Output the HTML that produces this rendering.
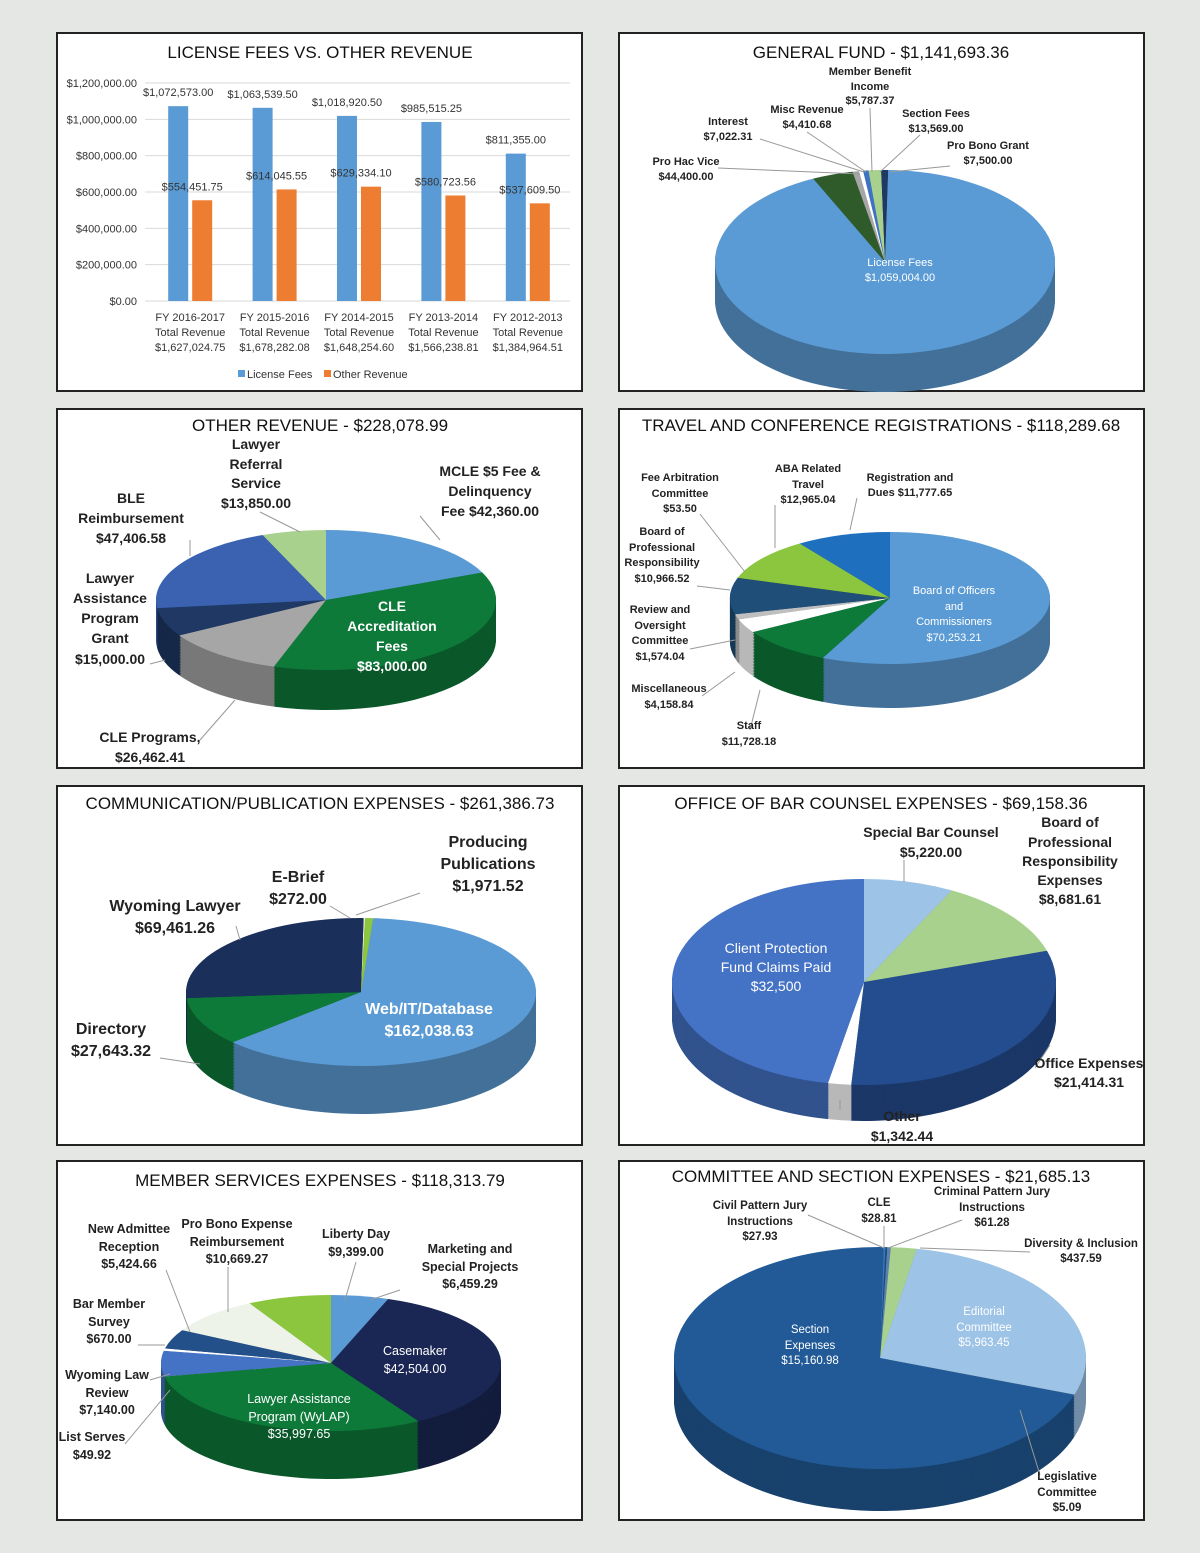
<!DOCTYPE html>
<html><head><meta charset="utf-8">
<style>
body{margin:0;width:1200px;height:1553px;background:#e6e9e6;font-family:"Liberation Sans",sans-serif;overflow:hidden}
svg{position:absolute;left:0;top:0}
text{font-family:"Liberation Sans",sans-serif}
.t{font-size:17px;fill:#111;text-anchor:middle}
.l{font-weight:bold;fill:#222}
</style></head>
<body>
<svg id="s" width="1200" height="1553">
<rect x="0" y="0" width="1200" height="1553" fill="#e4e7e4"/>
<g fill="#fff" stroke="#222" stroke-width="2">
<rect x="57" y="33" width="525" height="358"/><rect x="619" y="33" width="525" height="358"/>
<rect x="57" y="409" width="525" height="359"/><rect x="619" y="409" width="525" height="359"/>
<rect x="57" y="786" width="525" height="359"/><rect x="619" y="786" width="525" height="359"/>
<rect x="57" y="1161" width="525" height="359"/><rect x="619" y="1161" width="525" height="359"/>
</g>
<g>
<text class="t" x="320" y="58">LICENSE FEES VS. OTHER REVENUE</text>
<text class="t" x="881" y="58">GENERAL FUND - $1,141,693.36</text>
<text class="t" x="320" y="431">OTHER REVENUE - $228,078.99</text>
<text class="t" x="881" y="431">TRAVEL AND CONFERENCE REGISTRATIONS - $118,289.68</text>
<text class="t" x="320" y="809">COMMUNICATION/PUBLICATION EXPENSES - $261,386.73</text>
<text class="t" x="881" y="809">OFFICE OF BAR COUNSEL EXPENSES - $69,158.36</text>
<text class="t" x="320" y="1186">MEMBER SERVICES EXPENSES - $118,313.79</text>
<text class="t" x="881" y="1182">COMMITTEE AND SECTION EXPENSES - $21,685.13</text>
</g>
<g id="bars"></g>
<g id="pies"></g>
<g class="l">
<!-- general fund -->
<g font-size="11">
<text x="870" y="75" text-anchor="middle">Member Benefit</text><text x="870" y="90" text-anchor="middle">Income</text><text x="870" y="104" text-anchor="middle">$5,787.37</text>
<text x="807" y="113" text-anchor="middle">Misc Revenue</text><text x="807" y="128" text-anchor="middle">$4,410.68</text>
<text x="728" y="125" text-anchor="middle">Interest</text><text x="728" y="140" text-anchor="middle">$7,022.31</text>
<text x="686" y="165" text-anchor="middle">Pro Hac Vice</text><text x="686" y="180" text-anchor="middle">$44,400.00</text>
<text x="936" y="117" text-anchor="middle">Section Fees</text><text x="936" y="132" text-anchor="middle">$13,569.00</text>
<text x="988" y="149" text-anchor="middle">Pro Bono Grant</text><text x="988" y="164" text-anchor="middle">$7,500.00</text>
<text x="900" y="266" text-anchor="middle" fill="#fff" font-weight="normal">License Fees</text><text x="900" y="281" text-anchor="middle" fill="#fff" font-weight="normal">$1,059,004.00</text>
</g>
<!-- other revenue -->
<g font-size="14" text-anchor="middle">
<text x="256" y="449">Lawyer</text><text x="256" y="469">Referral</text><text x="256" y="488">Service</text><text x="256" y="508">$13,850.00</text>
<text x="131" y="503">BLE</text><text x="131" y="523">Reimbursement</text><text x="131" y="543">$47,406.58</text>
<text x="490" y="476">MCLE $5 Fee &amp;</text><text x="490" y="496">Delinquency</text><text x="490" y="516">Fee $42,360.00</text>
<text x="110" y="583">Lawyer</text><text x="110" y="603">Assistance</text><text x="110" y="623">Program</text><text x="110" y="643">Grant</text><text x="110" y="664">$15,000.00</text>
<text x="392" y="611" fill="#fff">CLE</text><text x="392" y="631" fill="#fff">Accreditation</text><text x="392" y="651" fill="#fff">Fees</text><text x="392" y="671" fill="#fff">$83,000.00</text>
<text x="150" y="742">CLE Programs,</text><text x="150" y="762">$26,462.41</text>
</g>
<!-- travel -->
<g font-size="11" text-anchor="middle">
<text x="680" y="481">Fee Arbitration</text><text x="680" y="497">Committee</text><text x="680" y="512">$53.50</text>
<text x="808" y="472">ABA Related</text><text x="808" y="488">Travel</text><text x="808" y="503">$12,965.04</text>
<text x="910" y="481">Registration and</text><text x="910" y="496">Dues $11,777.65</text>
<text x="662" y="535">Board of</text><text x="662" y="551">Professional</text><text x="662" y="566">Responsibility</text><text x="662" y="582">$10,966.52</text>
<text x="660" y="613">Review and</text><text x="660" y="629">Oversight</text><text x="660" y="644">Committee</text><text x="660" y="660">$1,574.04</text>
<text x="669" y="692">Miscellaneous</text><text x="669" y="708">$4,158.84</text>
<text x="749" y="729">Staff</text><text x="749" y="745">$11,728.18</text>
<text x="954" y="594" fill="#fff" font-weight="normal">Board of Officers</text><text x="954" y="610" fill="#fff" font-weight="normal">and</text><text x="954" y="625" fill="#fff" font-weight="normal">Commissioners</text><text x="954" y="641" fill="#fff" font-weight="normal">$70,253.21</text>
</g>
<!-- communication -->
<g font-size="16" text-anchor="middle">
<text x="488" y="847">Producing</text><text x="488" y="869">Publications</text><text x="488" y="891">$1,971.52</text>
<text x="298" y="882">E-Brief</text><text x="298" y="904">$272.00</text>
<text x="175" y="911">Wyoming Lawyer</text><text x="175" y="933">$69,461.26</text>
<text x="111" y="1034">Directory</text><text x="111" y="1056">$27,643.32</text>
<text x="429" y="1014" fill="#fff">Web/IT/Database</text><text x="429" y="1036" fill="#fff">$162,038.63</text>
</g>
<!-- office bar counsel -->
<g font-size="14" text-anchor="middle">
<text x="931" y="837">Special Bar Counsel</text><text x="931" y="857">$5,220.00</text>
<text x="1070" y="827">Board of</text><text x="1070" y="847">Professional</text><text x="1070" y="866">Responsibility</text><text x="1070" y="885">Expenses</text><text x="1070" y="904">$8,681.61</text>
<text x="776" y="953" fill="#fff" font-weight="normal">Client Protection</text><text x="776" y="972" fill="#fff" font-weight="normal">Fund Claims Paid</text><text x="776" y="991" fill="#fff" font-weight="normal">$32,500</text>
<text x="1089" y="1068">Office Expenses</text><text x="1089" y="1087">$21,414.31</text>
<text x="902" y="1121">Other</text><text x="902" y="1141">$1,342.44</text>
</g>
<!-- member services -->
<g font-size="12.5" text-anchor="middle">
<text x="129" y="1233">New Admittee</text><text x="129" y="1251">Reception</text><text x="129" y="1268">$5,424.66</text>
<text x="237" y="1228">Pro Bono Expense</text><text x="237" y="1246">Reimbursement</text><text x="237" y="1263">$10,669.27</text>
<text x="356" y="1238">Liberty Day</text><text x="356" y="1256">$9,399.00</text>
<text x="470" y="1253">Marketing and</text><text x="470" y="1271">Special Projects</text><text x="470" y="1288">$6,459.29</text>
<text x="109" y="1308">Bar Member</text><text x="109" y="1326">Survey</text><text x="109" y="1343">$670.00</text>
<text x="107" y="1379">Wyoming Law</text><text x="107" y="1397">Review</text><text x="107" y="1414">$7,140.00</text>
<text x="92" y="1441">List Serves</text><text x="92" y="1459">$49.92</text>
<text x="415" y="1355" fill="#fff" font-weight="normal">Casemaker</text><text x="415" y="1373" fill="#fff" font-weight="normal">$42,504.00</text>
<text x="299" y="1403" fill="#fff" font-weight="normal">Lawyer Assistance</text><text x="299" y="1421" fill="#fff" font-weight="normal">Program (WyLAP)</text><text x="299" y="1438" fill="#fff" font-weight="normal">$35,997.65</text>
</g>
<!-- committee -->
<g font-size="11.5" text-anchor="middle">
<text x="760" y="1209">Civil Pattern Jury</text><text x="760" y="1225">Instructions</text><text x="760" y="1240">$27.93</text>
<text x="879" y="1206">CLE</text><text x="879" y="1222">$28.81</text>
<text x="992" y="1195">Criminal Pattern Jury</text><text x="992" y="1211">Instructions</text><text x="992" y="1226">$61.28</text>
<text x="1081" y="1247">Diversity &amp; Inclusion</text><text x="1081" y="1262">$437.59</text>
<text x="984" y="1315" fill="#fff" font-weight="normal">Editorial</text><text x="984" y="1331" fill="#fff" font-weight="normal">Committee</text><text x="984" y="1346" fill="#fff" font-weight="normal">$5,963.45</text>
<text x="810" y="1333" fill="#fff" font-weight="normal">Section</text><text x="810" y="1349" fill="#fff" font-weight="normal">Expenses</text><text x="810" y="1364" fill="#fff" font-weight="normal">$15,160.98</text>
<text x="1067" y="1480">Legislative</text><text x="1067" y="1496">Committee</text><text x="1067" y="1511">$5.09</text>
</g>
</g>
</svg>
<script>
// ---- bar chart data ----
const barCategories=[["FY 2016-2017","Total Revenue","$1,627,024.75"],["FY 2015-2016","Total Revenue","$1,678,282.08"],["FY 2014-2015","Total Revenue","$1,648,254.60"],["FY 2013-2014","Total Revenue","$1,566,238.81"],["FY 2012-2013","Total Revenue","$1,384,964.51"]];
const licenseFees=[1072573.00,1063539.50,1018920.50,985515.25,811355.00];
const otherRevenue=[554451.75,614045.55,629334.10,580723.56,537609.50];
const yTicks=[0,200000,400000,600000,800000,1000000,1200000];
// ---- pie data ----
const gfValues=[44400,7022.31,4410.68,5787.37,13569,7500,1059004];
const orValues=[42360,83000,26462.41,15000,47406.58,13850];
const trValues=[70253.21,11728.18,4158.84,1574.04,10966.52,53.5,12965.04,11777.65];
const cmValues=[162038.63,27643.32,69461.26,272,1971.52];
const obValues=[5220,8681.61,21414.31,1342.44,32500];
const msValues=[6459.29,42504,35997.65,49.92,7140,670,5424.66,10669.27,9399];
const csValues=[61.28,437.59,5963.45,5.09,15160.98,27.93,28.81];

const NS="http://www.w3.org/2000/svg";
function mk(tag,attrs,parent){const e=document.createElementNS(NS,tag);for(const k in attrs)e.setAttribute(k,attrs[k]);parent.appendChild(e);return e;}
const fmt=v=>"$"+v.toLocaleString("en-US",{minimumFractionDigits:2,maximumFractionDigits:2});

// bar chart
const bg=document.getElementById("bars");
const y0=301,y1=83,vmax=1200000;
const ys=v=>y0-(v/vmax)*(y0-y1);
const xLeft=148,band=84.4;
const xc=i=>xLeft+band*(i+0.5);
yTicks.forEach(t=>{
  const g=mk("line",{x1:145,x2:570,y1:ys(t),y2:ys(t),stroke:"#d9d9d9"},bg);
  
  
  const tx=mk("text",{x:137,y:ys(t)+4,"text-anchor":"end","font-size":"11",fill:"#333"},bg);
  tx.textContent=fmt(t);
  
  
});
licenseFees.forEach((v,i)=>{
  const r=mk("rect",{x:xc(i)-22,y:ys(v),width:20,height:y0-ys(v),fill:"#5b9bd5"},bg);
  
  
  const t=mk("text",{x:xc(i)-12,y:ys(v)-10,"text-anchor":"middle","font-size":"11",fill:"#333"},bg);
  t.textContent=fmt(v);
  
  
});
otherRevenue.forEach((v,i)=>{
  const r=mk("rect",{x:xc(i)+2,y:ys(v),width:20,height:y0-ys(v),fill:"#ed7d31"},bg);
  
  
  const t=mk("text",{x:xc(i)+2,y:ys(v)-10,"text-anchor":"middle","font-size":"11",fill:"#333"},bg);
  t.textContent=fmt(v);
  
  
});
barCategories.forEach((c,i)=>{
  c.forEach((s,j)=>{
    const t=mk("text",{x:xc(i),y:321+j*15,"text-anchor":"middle","font-size":"11",fill:"#333"},bg);
    t.textContent=s;
    
    
  });
});
const lg1=mk("rect",{x:238,y:370,width:7,height:7,fill:"#5b9bd5"},bg);


const lt1=mk("text",{x:247,y:378,"font-size":"11",fill:"#333"},bg);lt1.textContent="License Fees";


const lg2=mk("rect",{x:324,y:370,width:7,height:7,fill:"#ed7d31"},bg);


const lt2=mk("text",{x:333,y:378,"font-size":"11",fill:"#333"},bg);lt2.textContent="Other Revenue";



// pies
const pg=document.getElementById("pies");
function shade(hex,f){const n=parseInt(hex.slice(1),16);let r=n>>16,g=(n>>8)&255,b=n&255;return `rgb(${Math.round(r*f)},${Math.round(g*f)},${Math.round(b*f)})`;}
function slicePath(cx,cy,rx,ry,a0,a1){
  const p0=[cx+rx*Math.cos(a0),cy+ry*Math.sin(a0)],p1=[cx+rx*Math.cos(a1),cy+ry*Math.sin(a1)];
  const large=(a1-a0)>Math.PI?1:0;
  return `M${cx},${cy}L${p0[0]},${p0[1]}A${rx},${ry} 0 ${large} 1 ${p1[0]},${p1[1]}Z`;
}
function pie(name,vals,colors,cx,cy,rx,ry,depth,startDeg){
  const g=mk("g",{},pg);
  
  
  const tot=vals.reduce((a,b)=>a+b,0);
  const angs=[];let a=startDeg*Math.PI/180;
  vals.forEach(v=>{const b=a+v/tot*2*Math.PI;angs.push([a,b]);a=b;});
  for(let d=depth;d>0;d-=1.5){
    angs.forEach((ab,i)=>{
      const p=mk("path",{d:slicePath(cx,cy+d,rx,ry,ab[0],ab[1]),fill:shade(colors[i],0.72)},g);
      
      
    });
  }
  angs.forEach((ab,i)=>{
    const p=mk("path",{d:slicePath(cx,cy,rx,ry,ab[0],ab[1]),fill:colors[i]},g);
    
    
  });
}
pie("general-fund-pie",gfValues,["#2f5a2a","#a6a6a6","#ffffff","#3d72c4","#a9d18e","#8fb8e2","#5b9bd5"].map((c,i)=>[ "#2f5a2a","#a6a6a6","#ffffff","#3d72c4","#a9d18e","#1f3864","#5b9bd5"][i]),885,262,170,92,38,-115);
pie("other-revenue-pie",orValues,["#5b9bd5","#0e7a3a","#a6a6a6","#1f3864","#3a62b0","#a9d18e"],326,600,170,70,40,-90);
pie("travel-pie",trValues,["#5b9bd5","#0e7a3a","#ffffff","#bfbfbf","#1f4e79","#444","#8cc63f","#1f6fbf"],890,598,160,66,44,-90);
pie("communication-pie",cmValues,["#5b9bd5","#0e7a3a","#1a2f5a","#ffffff","#8cc63f"],361,992,175,74,48,-86);
pie("bar-counsel-pie",obValues,["#9dc3e6","#a9d18e","#244d8f","#ffffff","#4472c4"],864,982,192,103,36,-90);
pie("member-services-pie",msValues,["#5b9bd5","#1a2755","#0e7a3a","#ddd","#4472c4","#ffffff","#24508a","#eef3ea","#8cc63f"],331,1363,170,68,48,-90);
pie("committee-pie",csValues,["#5b7fb0","#a9d18e","#9dc3e6","#666","#215a96","#3a7ac0","#1f4e79"],880,1358,206,111,42,-88);

// leader lines
const leaders=[[870,108,872,172],[807,132,866,172],[760,139,864,172],[718,168,860,174],[920,135,880,172],[950,166,890,172],
[420,516,440,540],[260,512,300,532],[190,540,190,556],[150,664,165,660],[200,740,235,700],
[700,514,745,572],[775,505,775,548],[857,498,850,530],[697,586,730,590],[690,649,735,640],[702,696,735,672],[750,730,760,690],
[420,893,356,915],[330,906,350,918],[236,926,240,940],[160,1058,200,1064],
[904,860,904,882],[1035,1068,1050,1045],[840,1110,840,1100],
[166,1270,190,1332],[228,1267,228,1312],[356,1262,345,1300],[400,1290,370,1300],[138,1345,165,1345],[150,1380,170,1374],[125,1444,170,1390],
[808,1215,884,1248],[884,1226,884,1248],[962,1220,888,1248],[1030,1252,920,1248],[1040,1475,1020,1410]];
leaders.forEach(l=>{
  const e=mk("line",{x1:l[0],y1:l[1],x2:l[2],y2:l[3],stroke:"#999","stroke-width":"1"},pg);
  
  
});
</script>
</body></html>
